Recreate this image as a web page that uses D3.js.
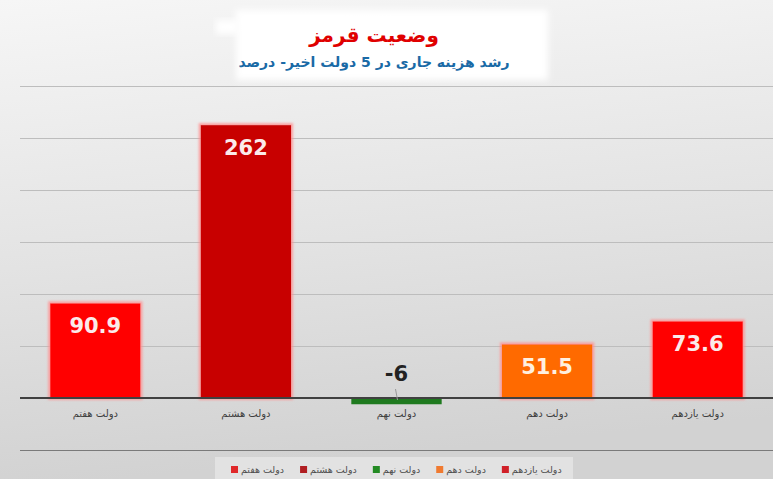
<!DOCTYPE html>
<html>
<head>
<meta charset="utf-8">
<script src="https://cdn.jsdelivr.net/npm/d3@7"></script>
<style>
  html, body { margin: 0; padding: 0; }
  body { width: 773px; height: 479px; overflow: hidden; }
  svg { display: block; }
</style>
</head>
<body>
<div id="chart"></div>
<script>
const width = 773;
const height = 479;

const categories = ["دولت هفتم", "دولت هشتم", "دولت نهم", "دولت دهم", "دولت یازدهم"];
const values = [90.9, 262, -6, 51.5, 73.6];
const barColors = ["#ff0000", "#c80000", "#1f7a1f", "#ff6a00", "#ff0000"];
const legendColors = ["#e0282a", "#b01e22", "#238a23", "#f07a30", "#d02028"];
const labelColors = ["#fbeaea", "#fbeaea", "#222222", "#fff0e0", "#fbeaea"];
const gridTicks = [50, 100, 150, 200, 250, 300];

const titleText = "وضعیت قرمز";
const subtitleText = "رشد هزینه جاری در 5 دولت اخیر- درصد";

const arabicFont = "'DejaVu Sans', 'Noto Sans', sans-serif";

const svg = d3.select("#chart")
  .append("svg")
  .attr("width", width)
  .attr("height", height);

const defs = svg.append("defs");

const bg = defs.append("linearGradient")
  .attr("id", "bg")
  .attr("x1", 0).attr("y1", 0).attr("x2", 0.15).attr("y2", 1);
bg.append("stop").attr("offset", "0%").attr("stop-color", "#f6f6f6");
bg.append("stop").attr("offset", "55%").attr("stop-color", "#e3e3e3");
bg.append("stop").attr("offset", "100%").attr("stop-color", "#d2d2d2");

const glow = defs.append("filter")
  .attr("id", "glow")
  .attr("x", "-10%").attr("y", "-10%")
  .attr("width", "120%").attr("height", "120%");
glow.append("feMorphology").attr("in", "SourceAlpha").attr("operator", "dilate").attr("radius", 1.5).attr("result", "d");
glow.append("feGaussianBlur").attr("in", "d").attr("stdDeviation", 1.2).attr("result", "b");
glow.append("feFlood").attr("flood-color", "#ff9090").attr("flood-opacity", 0.8);
glow.append("feComposite").attr("in2", "b").attr("operator", "in").attr("result", "g");
const merge = glow.append("feMerge");
merge.append("feMergeNode").attr("in", "g");
merge.append("feMergeNode").attr("in", "SourceGraphic");

const soft = defs.append("filter").attr("id", "soft")
  .attr("x", "-10%").attr("y", "-20%").attr("width", "120%").attr("height", "140%");
soft.append("feGaussianBlur").attr("stdDeviation", 3);

svg.append("rect")
  .attr("width", width)
  .attr("height", height)
  .attr("fill", "url(#bg)");

// scales
const x = d3.scaleBand()
  .domain(categories)
  .range([20, 773])
  .paddingInner(0.4)
  .paddingOuter(0.2);

const y = d3.scaleLinear()
  .domain([0, 300])
  .range([398, 85.5]);

// gridlines
svg.append("g")
  .selectAll("line")
  .data(gridTicks)
  .join("line")
    .attr("x1", 20)
    .attr("x2", width)
    .attr("y1", d => Math.round(y(d)) + 0.5)
    .attr("y2", d => Math.round(y(d)) + 0.5)
    .attr("stroke", "#bdbdbd")
    .attr("stroke-width", 1);

// title box
svg.append("rect")
  .attr("x", 236).attr("y", 10)
  .attr("width", 312).attr("height", 70)
  .attr("fill", "#ffffff")
  .attr("filter", "url(#soft)");
svg.append("rect")
  .attr("x", 216).attr("y", 20)
  .attr("width", 22).attr("height", 14)
  .attr("fill", "#ffffff")
  .attr("filter", "url(#soft)");

svg.append("text")
  .attr("x", 374)
  .attr("y", 42)
  .attr("text-anchor", "middle")
  .attr("direction", "rtl")
  .attr("font-family", arabicFont)
  .attr("font-weight", "bold")
  .attr("font-size", 20)
  .attr("fill", "#e00000")
  .text(titleText);

svg.append("text")
  .attr("x", 374)
  .attr("y", 67)
  .attr("text-anchor", "middle")
  .attr("direction", "rtl")
  .attr("font-family", arabicFont)
  .attr("font-weight", "bold")
  .attr("font-size", 14)
  .attr("fill", "#1a6aa6")
  .text(subtitleText);

// bars
svg.append("g")
  .selectAll("rect")
  .data(values)
  .join("rect")
    .attr("x", (d, i) => x(categories[i]))
    .attr("y", d => y(Math.max(0, d)))
    .attr("width", x.bandwidth())
    .attr("height", d => Math.abs(y(d) - y(0)))
    .attr("fill", (d, i) => barColors[i])
    .attr("filter", d => d > 0 ? "url(#glow)" : null);

// axis line
svg.append("line")
  .attr("x1", 20).attr("x2", width)
  .attr("y1", y(0)).attr("y2", y(0))
  .attr("stroke", "#404040")
  .attr("stroke-width", 2);

// leader for negative label
svg.append("g")
  .selectAll("line")
  .data(values.filter(d => d < 0))
  .join("line")
    .attr("x1", (d) => x(categories[values.indexOf(d)]) + x.bandwidth() / 2 - 1)
    .attr("x2", (d) => x(categories[values.indexOf(d)]) + x.bandwidth() / 2 + 1)
    .attr("y1", y(0) - 9)
    .attr("y2", y(0) + 2)
    .attr("stroke", "#999")
    .attr("stroke-width", 1);

// value labels
svg.append("g")
  .selectAll("text")
  .data(values)
  .join("text")
    .attr("x", (d, i) => x(categories[i]) + x.bandwidth() / 2)
    .attr("y", d => d > 0 ? y(d) + 30 : y(0) - 17)
    .attr("text-anchor", "middle")
    .attr("font-family", "'DejaVu Sans', Verdana, sans-serif")
    .attr("font-weight", "bold")
    .attr("font-size", 21)
    .attr("fill", (d, i) => labelColors[i])
    .text(d => d);

// category labels
svg.append("g")
  .selectAll("text")
  .data(categories)
  .join("text")
    .attr("x", d => x(d) + x.bandwidth() / 2)
    .attr("y", 417)
    .attr("text-anchor", "middle")
    .attr("font-family", arabicFont)
    .attr("font-size", 10)
    .attr("fill", "#404040")
    .text(d => d);

// bottom separator
svg.append("line")
  .attr("x1", 20).attr("x2", width)
  .attr("y1", 450.5).attr("y2", 450.5)
  .attr("stroke", "#7a7a7a")
  .attr("stroke-width", 1);

// legend
svg.append("rect")
  .attr("x", 215).attr("y", 457)
  .attr("width", 358).attr("height", 22)
  .attr("fill", "#e2e2e2");

const legend = svg.append("g");
let lx = 231;
categories.forEach((c, i) => {
  const item = legend.append("g").attr("transform", `translate(${lx},0)`);
  item.append("rect")
    .attr("x", 0).attr("y", 466)
    .attr("width", 7).attr("height", 7)
    .attr("fill", legendColors[i]);
  const t = item.append("text")
    .attr("x", 10)
    .attr("y", 473)
    .attr("text-anchor", "start")
    .attr("font-family", arabicFont)
    .attr("font-size", 9.5)
    .attr("fill", "#505050")
    .text(c);
  const w = t.node().getComputedTextLength();
  lx += 10 + w + 16;
});
</script>
</body>
</html>
